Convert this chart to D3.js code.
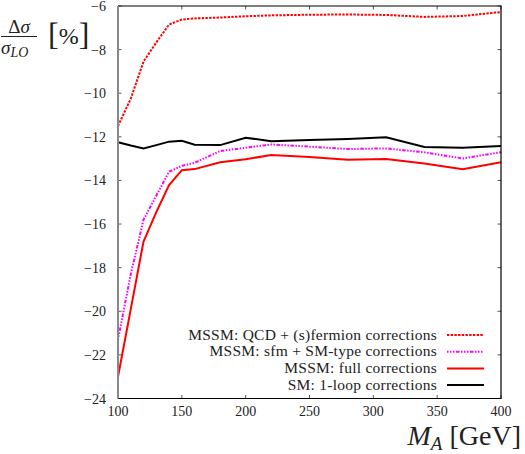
<!DOCTYPE html>
<html>
<head>
<meta charset="utf-8">
<script src="https://cdn.jsdelivr.net/npm/d3@7"></script>
<style>
  body { margin: 0; background: #fff; }
  text { font-family: "Liberation Serif", "Times New Roman", serif; }
</style>
</head>
<body>
<script>
// Higgs mass points (GeV) and the relative corrections (%)
var massA = [100, 110, 120, 130, 140, 150, 160, 180, 200, 220, 250, 280, 310, 340, 370, 400];
var qcdFermion = [-11.5, -10.25, -8.55, -7.67, -6.85, -6.62, -6.57, -6.53, -6.47, -6.43, -6.40, -6.39, -6.41, -6.50, -6.46, -6.28];
var sfmSmType = [-21.3, -18.3, -15.8, -14.7, -13.6, -13.33, -13.19, -12.65, -12.5, -12.35, -12.45, -12.56, -12.53, -12.71, -12.99, -12.71];
var mssmFull = [-23.0, -19.9, -16.8, -15.45, -14.21, -13.53, -13.48, -13.17, -13.03, -12.83, -12.93, -13.05, -13.02, -13.22, -13.49, -13.17];
var smOneLoop = [-12.25, -12.4, -12.53, -12.38, -12.22, -12.18, -12.36, -12.38, -12.04, -12.2, -12.15, -12.1, -12.02, -12.47, -12.5, -12.42];

var xTicks = [100, 150, 200, 250, 300, 350, 400];
var yTicks = [-24, -22, -20, -18, -16, -14, -12, -10, -8, -6];

var legendLabels = ["MSSM: QCD + (s)fermion corrections", "MSSM: sfm + SM-type corrections",
    "MSSM: full corrections", "SM: 1-loop corrections"];

// plot box
var box = { left: 118, right: 501, top: 6, bottom: 398.5 };

var svg = d3.select("body").append("svg")
    .attr("width", 525)
    .attr("height", 454);

var xScale = d3.scaleLinear().domain([100, 400]).range([box.left, box.right]);
var yScale = d3.scaleLinear().domain([-24, -6]).range([box.bottom, box.top]);

// ticks, drawn inward on all four sides
var tickG = svg.append("g").attr("stroke", "#555").attr("stroke-width", 1);
xTicks.forEach(function (t) {
    tickG.append("line").attr("x1", xScale(t)).attr("x2", xScale(t)).attr("y1", box.bottom).attr("y2", box.bottom - 3.5);
    tickG.append("line").attr("x1", xScale(t)).attr("x2", xScale(t)).attr("y1", box.top).attr("y2", box.top + 3.5);
});
yTicks.forEach(function (t) {
    tickG.append("line").attr("x1", box.left).attr("x2", box.left + 3.5).attr("y1", yScale(t)).attr("y2", yScale(t));
    tickG.append("line").attr("x1", box.right).attr("x2", box.right - 3.5).attr("y1", yScale(t)).attr("y2", yScale(t));
});

// tick labels
svg.append("g").selectAll("text")
    .data(xTicks).enter().append("text")
    .attr("x", function (d) { return xScale(d); })
    .attr("y", box.bottom + 17)
    .attr("text-anchor", "middle")
    .attr("font-size", "14px")
    .attr("fill", "#222")
    .text(function (d) { return d; });

svg.append("g").selectAll("text")
    .data(yTicks).enter().append("text")
    .attr("x", box.left - 12)
    .attr("y", function (d) { return yScale(d) + 5; })
    .attr("text-anchor", "end")
    .attr("font-size", "14px")
    .attr("fill", "#222")
    .text(function (d) { return "\u2212" + Math.abs(d); });

// the curves
var line = d3.line()
    .x(function (d) { return xScale(d[0]); })
    .y(function (d) { return yScale(d[1]); });

var series = [
    { values: smOneLoop, color: "#000", dash: null },
    { values: mssmFull, color: "#ff0000", dash: null },
    { values: sfmSmType, color: "#ff00ff", dash: "1.5,1.5,1.5,1.5,1.5,1.5,3.5,1.5" },
    { values: qcdFermion, color: "#ff0000", dash: "2.4,1.3" }
];

series.forEach(function (s) {
    svg.append("path")
        .datum(massA.map(function (m, i) { return [m, s.values[i]]; }))
        .attr("d", line)
        .attr("fill", "none")
        .attr("stroke", s.color)
        .attr("stroke-width", 2)
        .attr("stroke-dasharray", s.dash);
});

// frame: grey left edge, black for the rest
svg.append("path")
    .attr("d", "M" + box.left + "," + box.top + "H" + box.right + "V" + box.bottom + "H" + box.left)
    .attr("fill", "none").attr("stroke", "#000").attr("stroke-width", 1.2);
svg.append("line")
    .attr("x1", box.left).attr("x2", box.left).attr("y1", box.top).attr("y2", box.bottom)
    .attr("stroke", "#888").attr("stroke-width", 2);

// legend
var legendStyles = [series[3], series[2], series[1], series[0]];
var legend = svg.append("g");
legendLabels.forEach(function (lab, i) {
    var y = 335 + i * 16.7;
    legend.append("text")
        .attr("x", 437)
        .attr("y", y + 4.5)
        .attr("text-anchor", "end")
        .attr("font-size", "15.5px")
        .attr("letter-spacing", "0.25px")
        .attr("fill", "#222")
        .text(lab);
    legend.append("line")
        .attr("x1", 447).attr("x2", 484)
        .attr("y1", y).attr("y2", y)
        .attr("stroke", legendStyles[i].color)
        .attr("stroke-width", 2)
        .attr("stroke-dasharray", legendStyles[i].dash);
});

// x axis title
var xt = svg.append("text")
    .attr("x", 521)
    .attr("y", 445)
    .attr("text-anchor", "end")
    .attr("font-size", "28px")
    .attr("fill", "#222");
xt.append("tspan").attr("font-style", "italic").text("M");
xt.append("tspan").attr("font-style", "italic").attr("font-size", "19px").attr("dy", 5).text("A");
xt.append("tspan").attr("dy", -5).text(" [GeV]");

// y axis title as a fraction
var yt = svg.append("g").attr("fill", "#222");
yt.append("text")
    .attr("x", 19).attr("y", 33)
    .attr("text-anchor", "middle")
    .attr("font-size", "19px")
    .html('\u0394<tspan font-style="italic">\u03c3</tspan>');
yt.append("line")
    .attr("x1", 1).attr("x2", 37).attr("y1", 36.5).attr("y2", 36.5)
    .attr("stroke", "#222").attr("stroke-width", 1);
var den = yt.append("text")
    .attr("x", 1).attr("y", 54)
    .attr("font-size", "19px")
    .attr("font-style", "italic");
den.append("tspan").text("\u03c3");
den.append("tspan").attr("font-size", "14px").attr("dy", 3).text("LO");
var unit = yt.append("text")
    .attr("x", 48).attr("y", 44)
    .attr("font-size", "24px");
unit.append("tspan").attr("font-size", "32px").attr("dy", 1).attr("font-weight", "lighter").text("[");
unit.append("tspan").attr("dy", -1).text("%");
unit.append("tspan").attr("font-size", "32px").attr("dy", 1).text("]");
</script>
</body>
</html>
